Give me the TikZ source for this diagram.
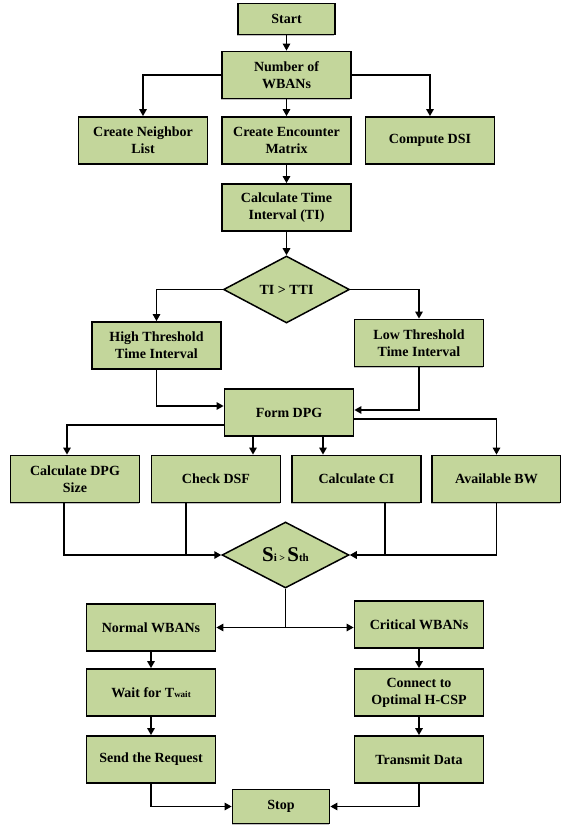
\documentclass[tikz,border=0pt]{standalone}
\usepackage{fontspec}
\setmainfont{Liberation Serif}
\usetikzlibrary{arrows.meta,shapes.geometric,shadows}
\definecolor{boxgreen}{HTML}{C3D69B}

\begin{document}
\begin{tikzpicture}[x=1pt, y=-1pt, line width=1.5pt, line join=miter,
  box/.style={draw=black, fill=boxgreen, line width=1.8pt, inner sep=0pt, align=center,
    minimum width=129pt, minimum height=47pt, font=\fontsize{14}{17}\selectfont\bfseries,
    drop shadow={shadow xshift=-0.8pt, shadow yshift=-1.4pt, fill=black!45, opacity=.55}},
  decision/.style={diamond, aspect=1.9, draw=black, fill=boxgreen, line width=1.5pt, inner sep=0pt,
    minimum width=126pt, minimum height=67pt, font=\fontsize{14}{17}\selectfont\bfseries},
  arr/.style={-{Triangle[length=7pt,width=7.5pt]}, line width=1.5pt}]

  %% ════ 方框 ════
  \node[box, minimum width=97pt, minimum height=31pt] (start) at (286.5,19) {Start};
  \node[box] (nwb)  at (286.5,75)    {Number of\\WBANs};
  \node[box] (nbr)  at (143,140.5)   {Create Neighbor\\List};
  \node[box] (enc)  at (286.5,140.5) {Create Encounter\\Matrix};
  \node[box] (dsi)  at (430,140.5)   {Compute DSI};
  \node[box] (cti)  at (286.5,207.5) {Calculate Time\\Interval (TI)};
  \node[decision] (tti) at (286.5,289.5) {TI > TTI};
  \node[box] (hti)  at (156.5,345.5) {High Threshold\\Time Interval};
  \node[box] (lti)  at (419,343)     {Low Threshold\\Time Interval};
  \node[box] (dpg)  at (289,412.5)   {Form DPG};
  \node[box] (dsz)  at (75,479)      {Calculate DPG\\Size};
  \node[box] (dsf)  at (216,479)     {Check DSF};
  \node[box] (cci)  at (356.5,479)   {Calculate CI};
  \node[box] (abw)  at (496.5,479)   {Available BW};
  \node[decision, minimum width=127pt, minimum height=66pt] (sth) at (285.5,555)
    {{\fontsize{21}{21}\selectfont S}{\fontsize{11}{11}\selectfont i}\,{\fontsize{10}{10}\selectfont >}\,{\fontsize{21}{21}\selectfont S}{\fontsize{11}{11}\selectfont th}};
  \node[box] (nrm)  at (151,627.5)   {Normal WBANs};
  \node[box] (crt)  at (419,624.5)   {Critical WBANs};
  \node[box] (wt)   at (151,692.5)   {Wait for T{\fontsize{9}{9}\selectfont wait}};
  \node[box] (hcsp) at (419,692.5)   {Connect to\\Optimal H-CSP};
  \node[box] (req)  at (151,759.5)   {Send the Request};
  \node[box] (txd)  at (419,759.5)   {Transmit Data};
  \node[box, minimum width=97pt, minimum height=34pt] (stop) at (281,806.5) {Stop};

  %% ════ 连线 ════
  \draw[arr] (start) -- (nwb);
  \draw[arr] (nwb.west) -| (nbr.north);
  \draw[arr] (nwb) -- (enc);
  \draw[arr] (nwb.east) -| (dsi.north);
  \draw[arr] (enc) -- (cti);
  \draw[arr] (cti) -- (tti);
  \draw[arr] (tti.west) -| (hti.north);
  \draw[arr] (tti.east) -| (lti.north);
  \draw[arr] (hti.south) |- ([yshift=6.5pt]dpg.west);
  \draw[arr] (lti.south) |- ([yshift=2.5pt]dpg.east);
  \draw[arr] ([yshift=-12.5pt]dpg.west) -| ([xshift=-8pt]dsz.north);
  \draw[arr] ([xshift=-36pt]dpg.south) -- ([xshift=-36pt]dpg.south |- dsf.north);
  \draw[arr] ([xshift=34pt]dpg.south) -- ([xshift=34pt]dpg.south |- cci.north);
  \draw[arr] ([yshift=-6.5pt]dpg.east) -| (abw.north);

  %% ════ 汇入判断 S ════
  \draw[arr] ([xshift=-11pt]dsz.south) |- (sth.west);
  \draw ([xshift=-30pt]dsf.south) -- ([xshift=-30pt]dsf.south |- sth.west);
  \draw ([xshift=28.5pt]cci.south) -- ([xshift=28.5pt]cci.south |- sth.east);
  \draw[arr] (abw.south) |- (sth.east);

  %% ════ 分支与结束 ════
  \coordinate (split) at (sth.south |- nrm.east);
  \draw (sth.south) -- (split);
  \draw[arr] (split) -- (nrm.east);
  \draw[arr] (split) -- (split -| crt.west);
  \draw[arr] (nrm) -- (wt);
  \draw[arr] (wt) -- (req);
  \draw[arr] (crt) -- (hcsp);
  \draw[arr] (hcsp) -- (txd);
  \draw[arr] (req.south) |- (stop.west);
  \draw[arr] (txd.south) |- (stop.east);

  % 钉死画布
  \pgfresetboundingbox
  \path[use as bounding box] (0,0) rectangle (561,834);
\end{tikzpicture}
\end{document}
